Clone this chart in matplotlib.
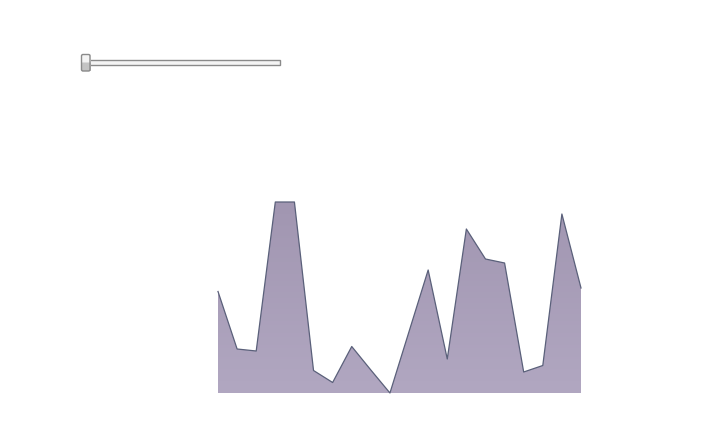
import matplotlib
matplotlib.use("Agg")
import matplotlib.pyplot as plt
import numpy as np
from matplotlib.patches import Rectangle, FancyBboxPatch
from matplotlib.colors import LinearSegmentedColormap

# data (arbitrary units)
x_index = list(range(20))
values = [101.5, 44, 42, 191, 191, 22.5, 10.5, 46.5, 23, 0,
          61.5, 123, 34, 164, 134, 130, 21, 27.5, 179, 105]

W, H = 706, 443
fig = plt.figure(figsize=(W / 100, H / 100), dpi=100)

# plot area in pixel coordinates
left, right, bottom, top = 218, 581, 393, 202
ax = fig.add_axes([left / W, 1 - bottom / H, (right - left) / W, (bottom - top) / H])
ax.set_xlim(0, len(values) - 1)
ax.set_ylim(0, max(values))
ax.axis("off")

poly = ax.fill_between(x_index, values, 0, color="none", lw=0)
cmap = LinearSegmentedColormap.from_list("g", ["#b1a7c1", "#a196b1"])
grad = np.linspace(0, 1, 256).reshape(-1, 1)
im = ax.imshow(grad, cmap=cmap, aspect="auto", origin="lower",
               extent=[0, len(values) - 1, 0, max(values)], zorder=1)
path = poly.get_paths()[0]
im.set_clip_path(path, transform=ax.transData)
ax.plot(x_index, values, color="#5a607a", lw=0.9, zorder=2, clip_on=False)

# slider widget (decorative)
sax = fig.add_axes([0, 0, 1, 1])
sax.set_xlim(0, W)
sax.set_ylim(H, 0)
sax.axis("off")
sax.add_patch(Rectangle((86, 60), 194, 5, facecolor="#f4f4f4", edgecolor="#8a8a8a", lw=1))
sgrad = np.array([0, 0, 0, 0, 1, 1, 1, 1]).reshape(-1, 1).astype(float)
hcmap = LinearSegmentedColormap.from_list("h", ["#f4f4f4", "#c4c4c4"])
sax.imshow(sgrad, cmap=hcmap, aspect="auto", extent=[81.5, 90, 71, 54.5], zorder=3)
sax.add_patch(FancyBboxPatch((81.5, 54.5), 8.5, 16.5, boxstyle="round,pad=0,rounding_size=1.5",
                             facecolor="none", edgecolor="#8a8a8a", lw=1, zorder=4))
sax.set_xlim(0, W)
sax.set_ylim(H, 0)

fig.savefig("out.png", dpi=100)
